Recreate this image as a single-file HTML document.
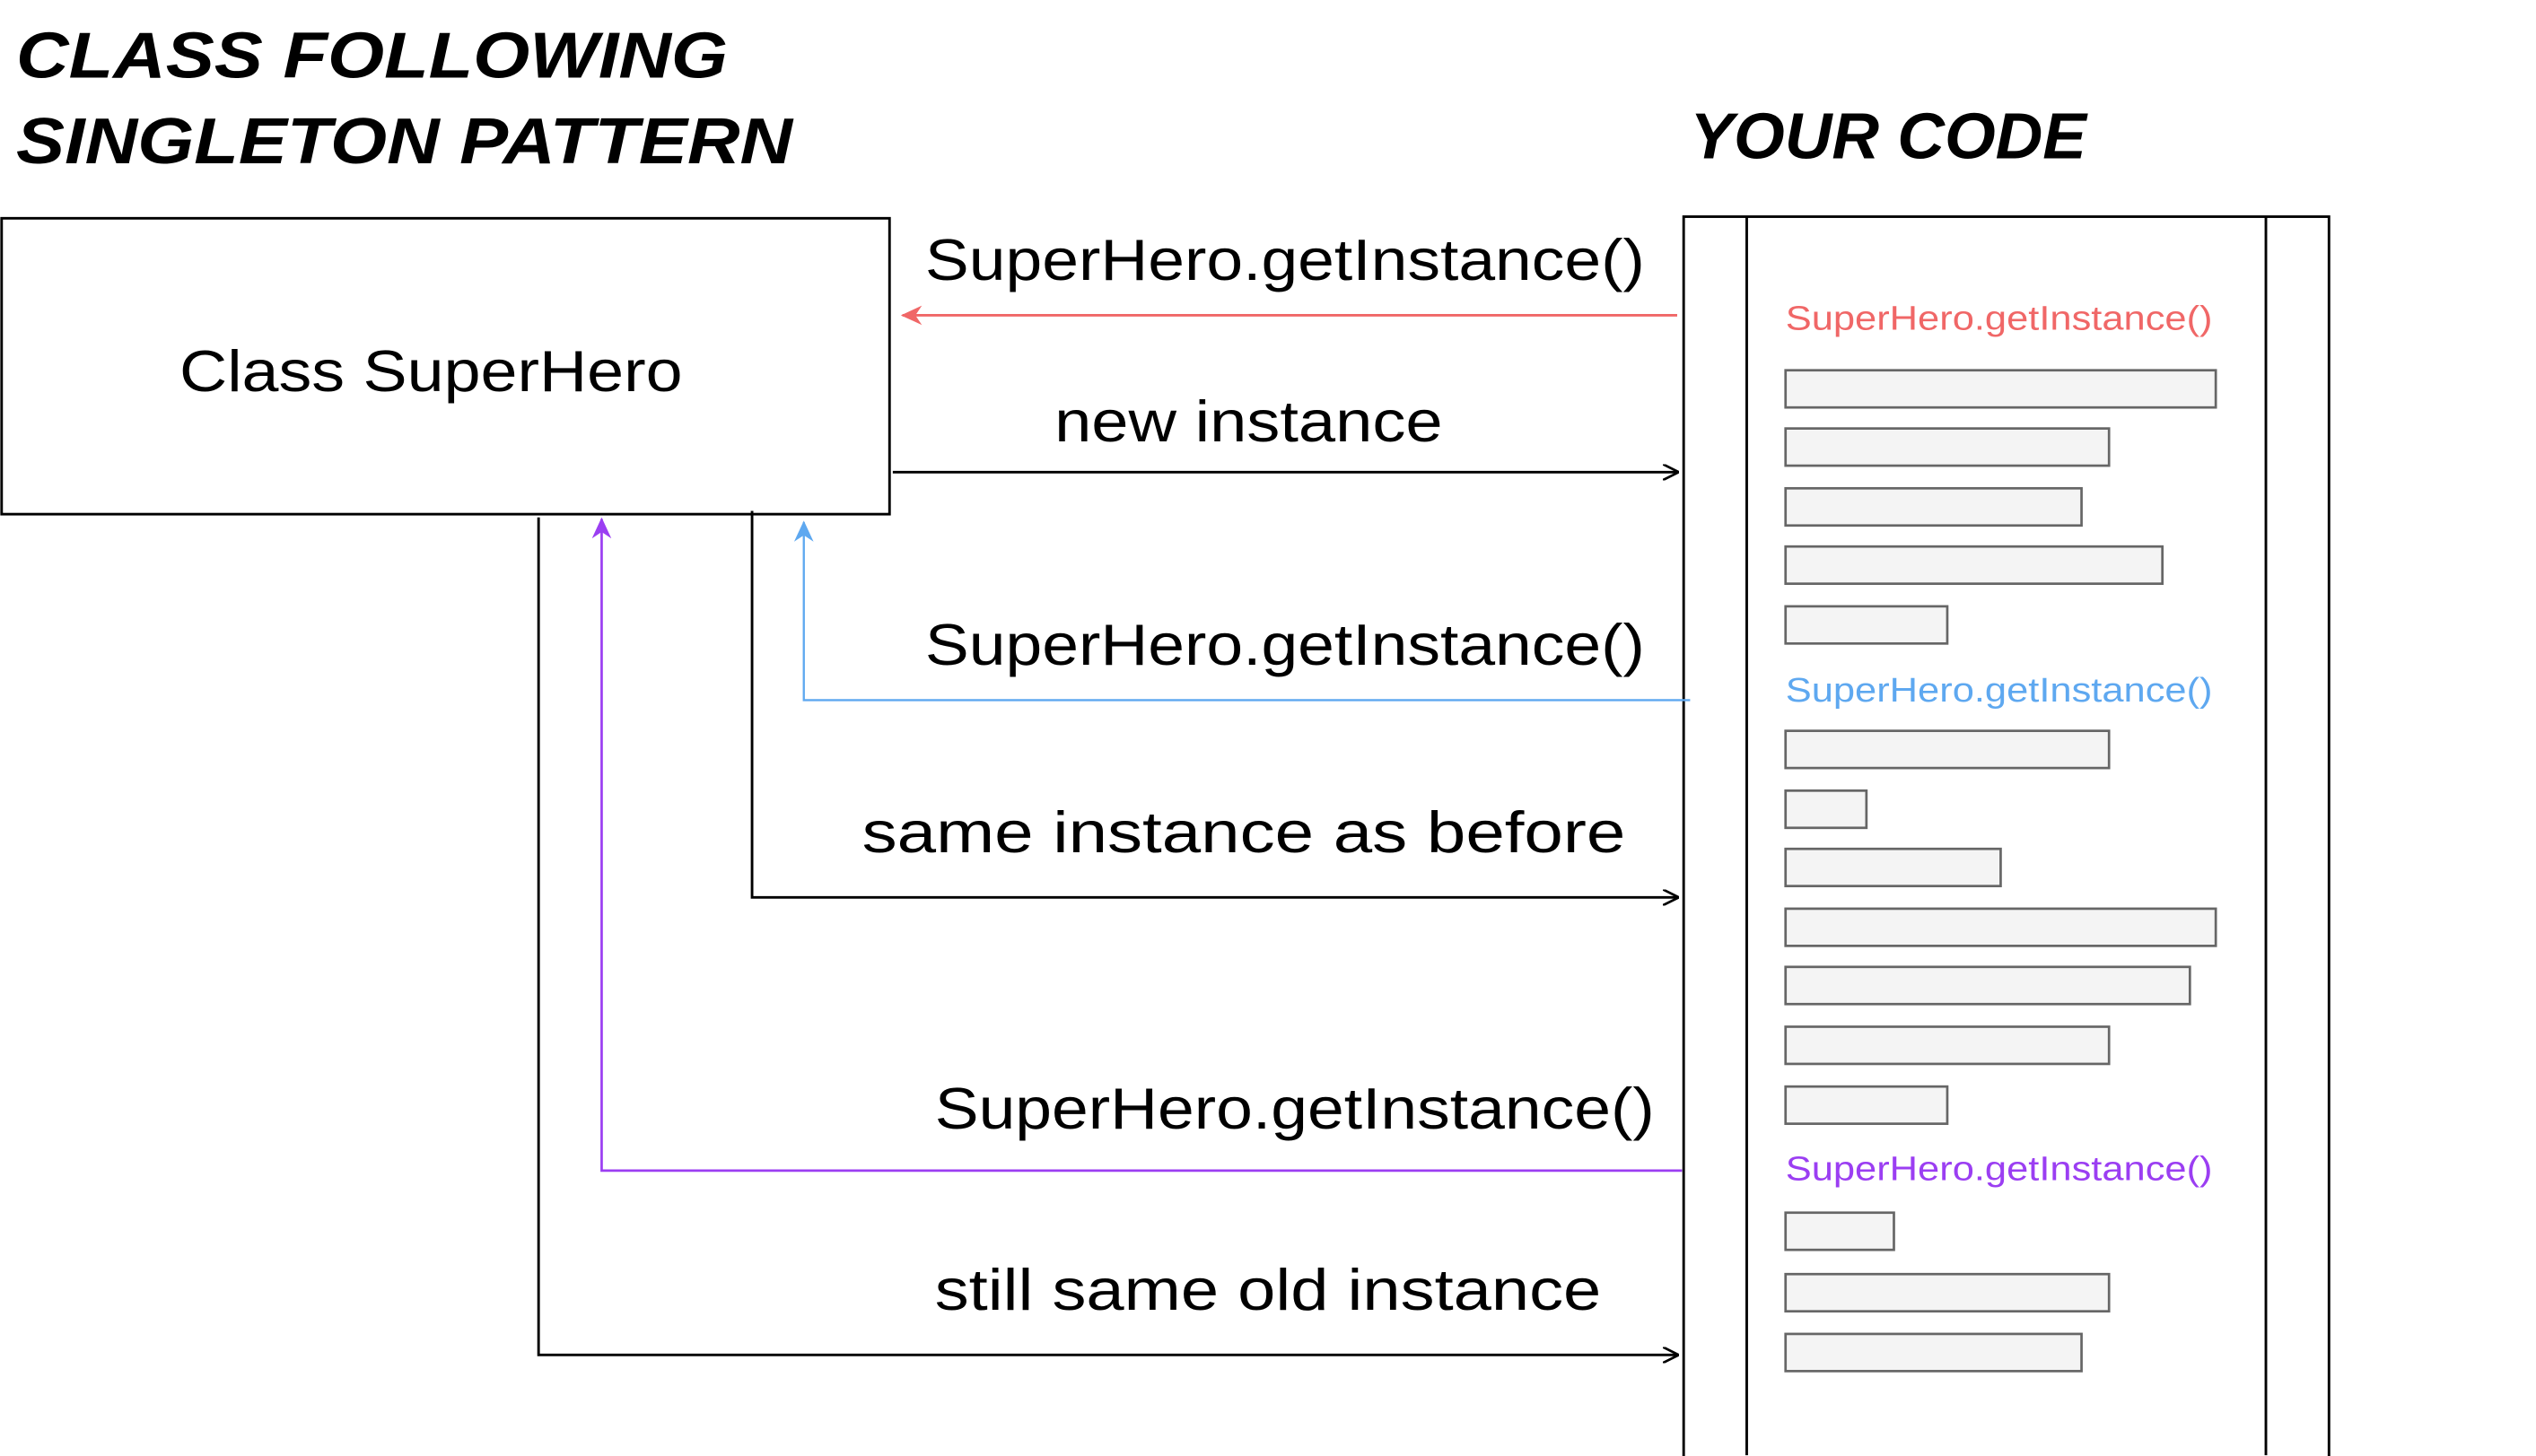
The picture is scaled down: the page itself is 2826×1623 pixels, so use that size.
<!DOCTYPE html>
<html><head><meta charset="utf-8"><style>
html,body{margin:0;padding:0;background:#fff;}
svg{display:block;}
</style></head><body>
<svg width="2826" height="1623" viewBox="0 0 1568 900.5" preserveAspectRatio="none" xmlns="http://www.w3.org/2000/svg">
<defs>
<marker id="ab" markerWidth="10" markerHeight="10" refX="9" refY="5" orient="auto" markerUnits="userSpaceOnUse"><path d="M0,0 L10,5 L0,10" fill="none" stroke="#000" stroke-width="1.5"/></marker>
<marker id="ar" markerWidth="14" markerHeight="12" refX="12" refY="6" orient="auto" markerUnits="userSpaceOnUse"><path d="M0,0 L13,6 L0,12 L4,6Z" fill="#f06767"/></marker>
<marker id="abl" markerWidth="14" markerHeight="12" refX="12" refY="6" orient="auto" markerUnits="userSpaceOnUse"><path d="M0,0 L13,6 L0,12 L4,6Z" fill="#5ea8f0"/></marker>
<marker id="ap" markerWidth="14" markerHeight="12" refX="12" refY="6" orient="auto" markerUnits="userSpaceOnUse"><path d="M0,0 L13,6 L0,12 L4,6Z" fill="#9b3ef2"/></marker>
</defs>
<g font-family="Liberation Sans, sans-serif">
<text x="10" y="48" font-size="40" font-weight="bold" font-style="italic" textLength="440" lengthAdjust="spacingAndGlyphs">CLASS FOLLOWING</text>
<text x="10" y="101" font-size="40" font-weight="bold" font-style="italic" textLength="480" lengthAdjust="spacingAndGlyphs">SINGLETON PATTERN</text>
<text x="1045" y="98" font-size="40" font-weight="bold" font-style="italic" textLength="245" lengthAdjust="spacingAndGlyphs">YOUR CODE</text>

<text x="111" y="242" font-size="36" textLength="311" lengthAdjust="spacingAndGlyphs">Class SuperHero</text>
<text x="572" y="173" font-size="36" textLength="445" lengthAdjust="spacingAndGlyphs">SuperHero.getInstance()</text>
<text x="652" y="273" font-size="36" textLength="240" lengthAdjust="spacingAndGlyphs">new instance</text>
<text x="572" y="411" font-size="36" textLength="445" lengthAdjust="spacingAndGlyphs">SuperHero.getInstance()</text>
<text x="533" y="527" font-size="36" textLength="472" lengthAdjust="spacingAndGlyphs">same instance as before</text>
<text x="578" y="698" font-size="36" textLength="445" lengthAdjust="spacingAndGlyphs">SuperHero.getInstance()</text>
<text x="578" y="810" font-size="36" textLength="412" lengthAdjust="spacingAndGlyphs">still same old instance</text>

<text x="1104" y="204" font-size="21" fill="#f06767" textLength="264" lengthAdjust="spacingAndGlyphs">SuperHero.getInstance()</text>
<text x="1104" y="434" font-size="21" fill="#5ea8f0" textLength="264" lengthAdjust="spacingAndGlyphs">SuperHero.getInstance()</text>
<text x="1104" y="730" font-size="21" fill="#9b3ef2" textLength="264" lengthAdjust="spacingAndGlyphs">SuperHero.getInstance()</text>
</g>

<g fill="none" stroke="#000" stroke-width="1.6">
<rect x="1" y="135" width="549" height="183"/>
<rect x="1041" y="134" width="399" height="770"/>
<line x1="1080" y1="134" x2="1080" y2="900"/>
<line x1="1401" y1="134" x2="1401" y2="900"/>
<path d="M552,292 L1037,292" marker-end="url(#ab)"/>
<path d="M465,316 L465,555 L1037,555" marker-end="url(#ab)"/>
<path d="M333,320 L333,838 L1037,838" marker-end="url(#ab)"/>
</g>
<path d="M1037,195 L558,195" fill="none" stroke="#f06767" stroke-width="1.6" marker-end="url(#ar)"/>
<path d="M1045,433 L497,433 L497,323" fill="none" stroke="#5ea8f0" stroke-width="1.3" marker-end="url(#abl)"/>
<path d="M1040,724 L372,724 L372,321" fill="none" stroke="#9b3ef2" stroke-width="1.5" marker-end="url(#ap)"/>

<g fill="#f4f4f4" stroke="#666" stroke-width="1.5">
<rect x="1104" y="229" width="266" height="23"/>
<rect x="1104" y="265" width="200" height="23"/>
<rect x="1104" y="302" width="183" height="23"/>
<rect x="1104" y="338" width="233" height="23"/>
<rect x="1104" y="375" width="100" height="23"/>
<rect x="1104" y="452" width="200" height="23"/>
<rect x="1104" y="489" width="50" height="23"/>
<rect x="1104" y="525" width="133" height="23"/>
<rect x="1104" y="562" width="266" height="23"/>
<rect x="1104" y="598" width="250" height="23"/>
<rect x="1104" y="635" width="200" height="23"/>
<rect x="1104" y="672" width="100" height="23"/>
<rect x="1104" y="750" width="67" height="23"/>
<rect x="1104" y="788" width="200" height="23"/>
<rect x="1104" y="825" width="183" height="23"/>
</g>
</svg>
</body></html>
